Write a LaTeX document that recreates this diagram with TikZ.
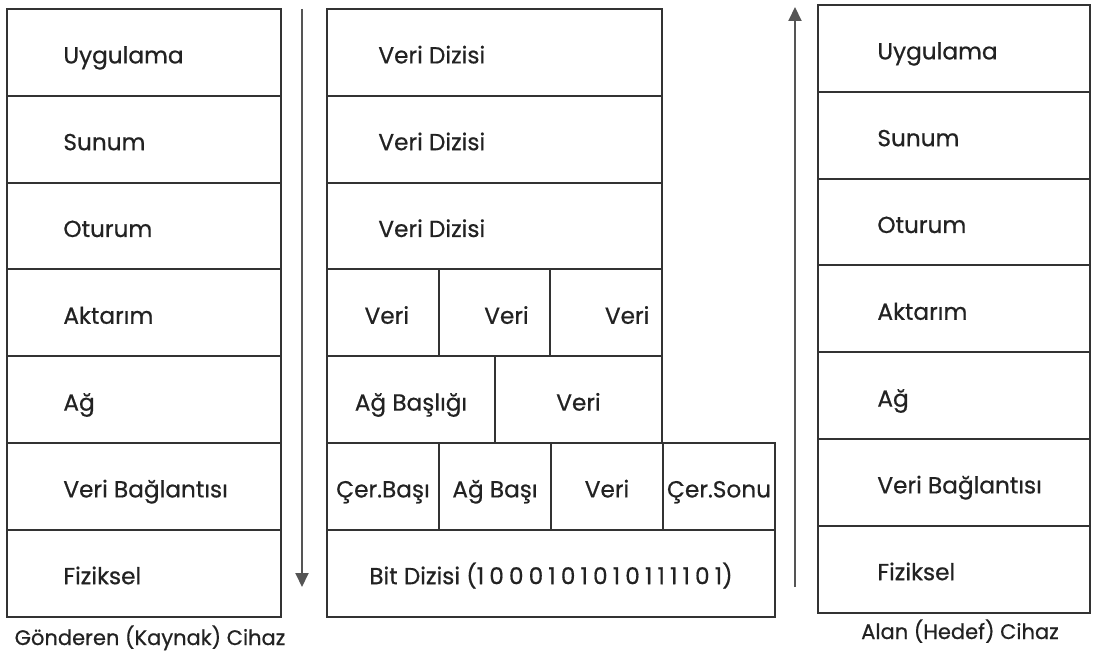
\documentclass[tikz,border=0pt]{standalone}
\usepackage{fontspec}
\setmainfont{Poppins}[FakeBold=0.6]
\usetikzlibrary{positioning,arrows.meta}

\definecolor{linegray}{HTML}{333333}
\definecolor{textgray}{HTML}{222222}
\definecolor{arrowgray}{HTML}{555555}

\tikzset{
  layer/.style={draw=linegray, line width=1pt, rectangle, outer sep=0pt, inner sep=0pt,
    minimum width=#1, minimum height=43.4pt, text height=1.1em, text depth=0pt},
  layer/.default=137pt,
  lbl/.style={inner sep=0pt, text height=1.1em, text depth=0pt},
  caption/.style={inner sep=0pt, text height=0.7em, text depth=0pt,
    font=\fontsize{10.5}{12}\selectfont},
  flow/.style={draw=arrowgray, line width=1pt, -{Triangle[width=6.5pt,length=7pt]}}
}

\begin{document}
\begin{tikzpicture}[x=0.5pt, y=-0.5pt, font=\fontsize{11.6}{14}\selectfont, text=textgray]
    \useasboundingbox (0,0) rectangle (1093,652);

    % sending device
    \node[layer, anchor=north west] (s1) at (7,9) {};
    \node[layer, below=0pt of s1] (s2) {};
    \node[layer, below=0pt of s2] (s3) {};
    \node[layer, below=0pt of s3] (s4) {};
    \node[layer, below=0pt of s4] (s5) {};
    \node[layer, below=0pt of s5] (s6) {};
    \node[layer, below=0pt of s6] (s7) {};

    \node[lbl, right=28pt of s1.west] (s1t) {Uygulama};
    \node[lbl, right=28pt of s2.west] (s2t) {Sunum};
    \node[lbl, right=28pt of s3.west] (s3t) {Oturum};
    \node[lbl, right=28pt of s4.west] (s4t) {Aktarım};
    \node[lbl, right=28pt of s5.west] (s5t) {Ağ};
    \node[lbl, right=28pt of s6.west] (s6t) {Veri Bağlantısı};
    \node[lbl, right=28pt of s7.west] (s7t) {Fiziksel};

    \node[caption, below=7pt of s7, xshift=3pt] (src) {Gönderen (Kaynak) Cihaz};

    % data units
    \node[layer=167.5pt, anchor=north west] (m1) at (327,9) {};
    \node[layer=167.5pt, below=0pt of m1] (m2) {};
    \node[layer=167.5pt, below=0pt of m2] (m3) {};

    \node[lbl, right=25.5pt of m1.west] (m1t) {Veri Dizisi};
    \node[lbl, right=25.5pt of m2.west] (m2t) {Veri Dizisi};
    \node[lbl, right=25.5pt of m3.west] (m3t) {Veri Dizisi};

    \node[layer=55.83pt, below right=0pt and 0pt of m3.south west] (v1) {\hspace*{4pt}Veri};
    \node[layer=55.83pt, right=0pt of v1] (v2) {\hspace*{12pt}Veri};
    \node[layer=55.83pt, right=0pt of v2] (v3) {\hspace*{21pt}Veri};

    \node[layer=84pt, below right=0pt and 0pt of v1.south west] (n1) {Ağ Başlığı};
    \node[layer=83.5pt, right=0pt of n1] (n2) {Veri};

    \node[layer=56pt, below right=0pt and 0pt of n1.south west] (f1) {Çer.Başı};
    \node[layer=56pt, right=0pt of f1] (f2) {Ağ Başı};
    \node[layer=56pt, right=0pt of f2] (f3) {Veri};
    \node[layer=56pt, right=0pt of f3] (f4) {Çer.Sonu};

    \node[layer=224pt, below right=0pt and 0pt of f1.south west] (b1)
        {Bit Dizisi ({\addfontfeatures{LetterSpace=22}1000101010111101})};

    % receiving device
    \node[layer=136pt, anchor=north west] (r1) at (818,5) {};
    \node[layer=136pt, below=0pt of r1] (r2) {};
    \node[layer=136pt, below=0pt of r2] (r3) {};
    \node[layer=136pt, below=0pt of r3] (r4) {};
    \node[layer=136pt, below=0pt of r4] (r5) {};
    \node[layer=136pt, below=0pt of r5] (r6) {};
    \node[layer=136pt, below=0pt of r6] (r7) {};

    \node[lbl, right=29.5pt of r1.west] (r1t) {Uygulama};
    \node[lbl, right=29.5pt of r2.west] (r2t) {Sunum};
    \node[lbl, right=29.5pt of r3.west] (r3t) {Oturum};
    \node[lbl, right=29.5pt of r4.west] (r4t) {Aktarım};
    \node[lbl, right=29.5pt of r5.west] (r5t) {Ağ};
    \node[lbl, right=29.5pt of r6.west] (r6t) {Veri Bağlantısı};
    \node[lbl, right=29.5pt of r7.west] (r7t) {Fiziksel};

    \node[caption, below=6pt of r7, xshift=3pt] (dst) {Alan (Hedef) Cihaz};

    % direction arrows
    \coordinate (down start) at (302,9);
    \coordinate (down end) at (302,587);
    \draw[flow] (down start) -- (down end);

    \coordinate (up start) at (795,587);
    \coordinate (up end) at (795,7);
    \draw[flow] (up start) -- (up end);
\end{tikzpicture}
\end{document}
